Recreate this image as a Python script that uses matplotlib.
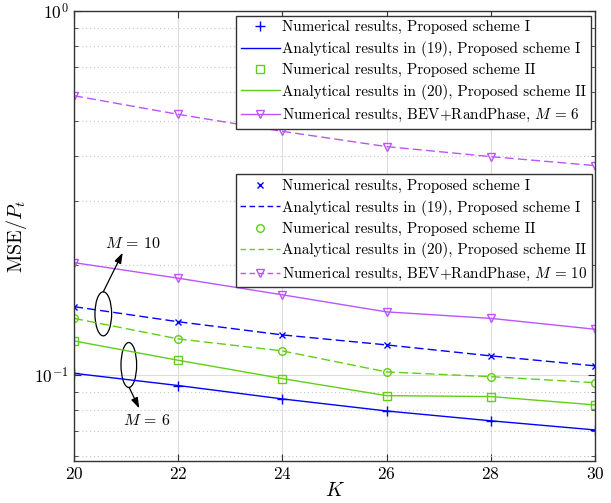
import matplotlib
matplotlib.use("Agg")
import matplotlib.pyplot as plt
from matplotlib.lines import Line2D
from matplotlib.patches import Ellipse
from matplotlib.ticker import LogLocator, FixedLocator, NullFormatter

plt.rcParams['font.family'] = 'serif'
plt.rcParams['font.serif'] = ['cmr10', 'DejaVu Serif']
plt.rcParams['mathtext.fontset'] = 'cm'
plt.rcParams['axes.formatter.use_mathtext'] = True
plt.rcParams['font.size'] = 10.5

K = [20, 22, 24, 26, 28, 30]
# M = 6
num_I_6 = [0.101, 0.0935, 0.0859, 0.0796, 0.0748, 0.0706]
ana_I_6 = [0.101, 0.0935, 0.0859, 0.0796, 0.0748, 0.0706]
num_II_6 = [0.124, 0.1097, 0.0977, 0.0877, 0.0872, 0.0827]
ana_II_6 = [0.124, 0.1097, 0.0977, 0.0877, 0.0872, 0.0827]
bev_6 = [0.585, 0.520, 0.467, 0.424, 0.398, 0.376]
# M = 10
num_I_10 = [0.154, 0.140, 0.1288, 0.1209, 0.1128, 0.1059]
ana_I_10 = [0.154, 0.140, 0.1288, 0.1209, 0.1128, 0.1059]
num_II_10 = [0.143, 0.1256, 0.1164, 0.1019, 0.0989, 0.0952]
ana_II_10 = [0.143, 0.1256, 0.1164, 0.1019, 0.0989, 0.0952]
bev_10 = [0.2035, 0.1844, 0.166, 0.149, 0.143, 0.1335]

labels1 = ['Numerical results, Proposed scheme I',
           'Analytical results in (19), Proposed scheme I',
           'Numerical results, Proposed scheme II',
           'Analytical results in (20), Proposed scheme II',
           r'Numerical results, BEV+RandPhase, $M\,=\,6$']
labels2 = ['Numerical results, Proposed scheme I',
           'Analytical results in (19), Proposed scheme I',
           'Numerical results, Proposed scheme II',
           'Analytical results in (20), Proposed scheme II',
           r'Numerical results, BEV+RandPhase, $M\,=\,10$']

BLUE = '#0000ff'
GREEN = '#62cf14'
PURP = '#bb55ff'
DASH = (6.5, 3.0)

fig = plt.figure(figsize=(6.11, 5.03), dpi=100)
ax = fig.add_axes([74/611, 42/503, 521/611, 450/503])

lw = 1.0
MS_PLUS = 7.5
MS_X = 5.0
MS_SQ = 5.5
MS_O = 5.5
MS_V = 6.0
# M = 6 curves
ax.plot(K, ana_I_6, '-', color=BLUE, lw=lw)
ax.plot(K, num_I_6, '+', color=BLUE, ms=MS_PLUS, mew=1.0, ls='none')
ax.plot(K, ana_II_6, '-', color=GREEN, lw=lw)
ax.plot(K, num_II_6, 's', color=GREEN, ms=MS_SQ, mfc='none', mew=1.0, ls='none')
ax.plot(K, bev_6, color=PURP, lw=lw, ls=(0, DASH), marker='v', ms=MS_V, mfc='none', mew=1.0)
# M = 10 curves
ax.plot(K, ana_I_10, color=BLUE, lw=lw, ls=(0, DASH))
ax.plot(K, num_I_10, 'x', color=BLUE, ms=MS_X, mew=1.0, ls='none')
ax.plot(K, ana_II_10, color=GREEN, lw=lw, ls=(0, DASH))
ax.plot(K, num_II_10, 'o', color=GREEN, ms=MS_O, mfc='none', mew=1.0, ls='none')
ax.plot(K, bev_10, '-', color=PURP, lw=lw, marker='v', ms=MS_V, mfc='none', mew=1.0)

ax.set_yscale('log')
ax.set_xlim(20, 30)
ax.set_ylim(0.058, 1.0)
ax.set_xticks(K)
ax.yaxis.set_major_locator(FixedLocator([0.1, 1.0]))
ax.yaxis.set_minor_locator(LogLocator(base=10, subs=range(2, 10)))
ax.yaxis.set_minor_formatter(NullFormatter())

ax.grid(True, which='major', axis='both', color='#dcdcdc', lw=0.8, ls='-')
ax.grid(True, which='minor', axis='y', color='#c8c8c8', lw=0.8, ls=(0, (1, 2.5)))
ax.set_axisbelow(True)
ax.tick_params(which='both', direction='in', top=True, right=True, colors='#333333',
               labelcolor='black')
ax.tick_params(which='major', length=5, labelsize=12.5)
ax.tick_params(which='minor', length=3)
for s in ax.spines.values():
    s.set_color('#333333')
    s.set_linewidth(1.0)

ax.set_xlabel(r'$K$', fontsize=14.5, labelpad=0)
ax.set_ylabel(r'$\mathrm{MSE}/P_t$', fontsize=14.5, labelpad=4)

# legends
h1 = [Line2D([], [], color=BLUE, marker='+', ls='none', ms=MS_PLUS, mew=1.0),
      Line2D([], [], color=BLUE, ls='-', lw=lw),
      Line2D([], [], color=GREEN, marker='s', ls='none', ms=MS_SQ, mfc='none', mew=1.0),
      Line2D([], [], color=GREEN, ls='-', lw=lw),
      Line2D([], [], color=PURP, ls='-', lw=lw, marker='v', ms=MS_V, mfc='none', mew=1.0)]
h2 = [Line2D([], [], color=BLUE, marker='x', ls='none', ms=MS_X, mew=1.0),
      Line2D([], [], color=BLUE, ls=(0, (4, 2.5)), lw=lw),
      Line2D([], [], color=GREEN, marker='o', ls='none', ms=MS_O, mfc='none', mew=1.0),
      Line2D([], [], color=GREEN, ls=(0, (4, 2.5)), lw=lw),
      Line2D([], [], color=PURP, ls=(0, (4, 2.5)), lw=lw, marker='v', ms=MS_V, mfc='none', mew=1.0)]

kw = dict(loc='upper right', fancybox=False, framealpha=1, edgecolor='#333333',
          fontsize=10.9, handlelength=2.6, handletextpad=0.15, labelspacing=0.42,
          borderpad=0.3, borderaxespad=0)
leg1 = ax.legend(h1, labels1, bbox_to_anchor=(0.992, 0.9896), **kw)
leg1.get_frame().set_linewidth(1.0)
ax.add_artist(leg1)
leg2 = ax.legend(h2, labels2, bbox_to_anchor=(0.9937, 0.637), **kw)
leg2.get_frame().set_linewidth(1.0)

# annotations
e1 = Ellipse((0.0562, 0.327), 0.032, 0.0978, transform=ax.transAxes,
             fill=False, ec='black', lw=0.9)
e2 = Ellipse((0.1052, 0.2133), 0.030, 0.100, transform=ax.transAxes,
             fill=False, ec='black', lw=0.9)
ax.add_patch(e1)
ax.add_patch(e2)
ap = dict(arrowstyle='-|>,head_length=0.6,head_width=0.2', color='black', lw=0.9,
          shrinkA=0, shrinkB=0)
ax.annotate('', xy=(0.0935, 0.463), xytext=(0.0562, 0.376), xycoords='axes fraction',
            arrowprops=ap)
ax.annotate('', xy=(0.1253, 0.117), xytext=(0.1056, 0.164), xycoords='axes fraction',
            arrowprops=ap)
ax.text(0.113, 0.484, r'$M\,=\,10$', transform=ax.transAxes, ha='center', va='center',
        fontsize=11.5)
ax.text(0.140, 0.091, r'$M\,=\,6$', transform=ax.transAxes, ha='center', va='center',
        fontsize=11.5)

fig.savefig('out.png', dpi=100)
